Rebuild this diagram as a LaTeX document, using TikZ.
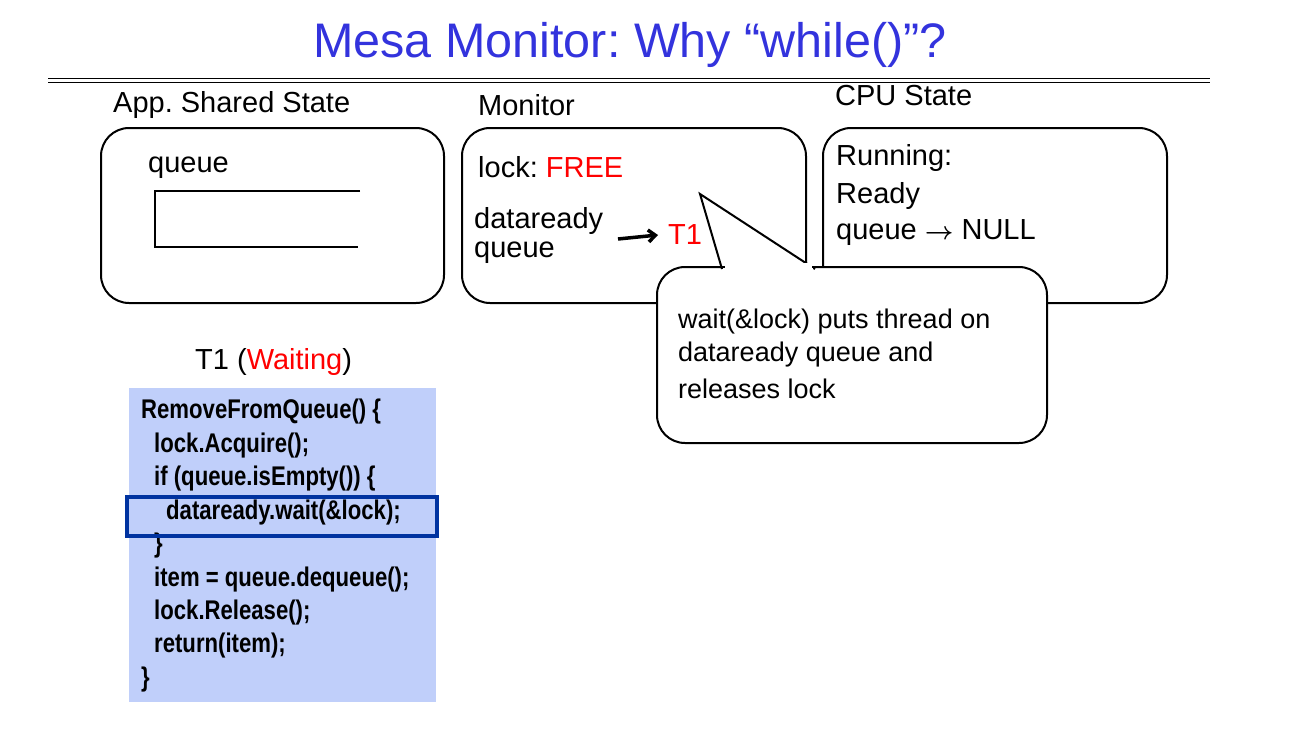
\documentclass[tikz,border=0pt]{standalone}
\usepackage{fontspec}
\usetikzlibrary{arrows.meta}
\setmainfont{Liberation Sans}
\newfontfamily\codefont{Liberation Sans}[FakeStretch=0.82]
\begin{document}
\frenchspacing
\begin{tikzpicture}[x=1pt,y=-1pt,
  lab/.style={anchor=west,inner sep=0,font=\fontsize{29}{33}\selectfont},
  box/.style={draw,line width=2pt,rounded corners=28pt},
  code/.style={anchor=west,inner sep=0,font=\codefont\bfseries\fontsize{27}{30}\selectfont}]
\useasboundingbox (0,0) rectangle (1294,744);
\definecolor{tblue}{RGB}{51,51,221}
\definecolor{cfill}{RGB}{192,207,250}
\definecolor{hblue}{RGB}{0,51,160}
\node[inner sep=0,text=tblue,font=\fontsize{48.5}{52}\selectfont] (title) at (630,45) {Mesa Monitor: Why “while()”?};
\draw[line width=1pt] (48,78) -- (1210,78) (48,82) -- (1210,82);
\node[lab] (l1) at (113,105) {App. Shared State};
\node[lab] (l2) at (478,105) {Monitor};
\node[lab] (l3) at (835,96) {CPU State};
\draw[box] (101,128) rectangle (444,303);
\draw[box] (462,128) rectangle (806,303);
\draw[box] (823,128) rectangle (1167,303);
\node[lab] (q) at (148,168) {queue};
\draw[line width=2pt] (360,191) -- (155,191) -- (155,247) -- (358,247);
\node[lab] (lk) at (478,167) {lock: \textcolor{red}{FREE}};
\node[lab] (dr) at (474,221) {dataready};
\node[lab] (dq) at (474,253) {queue};
\coordinate (a1) at (618,239);
\node[lab,text=red] (t1) at (668,235) {T1};
\draw[line width=3.5pt,-{Straight Barb[length=7pt,width=12pt]}] (a1) -- ([xshift=-10pt]t1.west);
\node[lab] (c1) at (836,158) {Running:};
\node[lab] (c2) at (836,196) {Ready};
\node[lab] (c3) at (836,233) {queue {\boldmath$\rightarrow$} NULL};
\draw[line width=2pt,fill=white,rounded corners=28pt] (722,267) -- (1047,267) -- (1047,443) -- (657,443) -- (657,267) -- (722,267);
\draw[line width=2pt,fill=white,line join=miter] (722,269) -- (700,194) -- (815,269);
\fill[white] (723,263) rectangle (813,272);
\draw[line width=2pt] (720,267) -- (725,267) (812,267) -- (820,267);
\node[lab,font=\fontsize{27}{30}\selectfont] (w1) at (678,322) {wait(\&lock) puts thread on};
\node[lab,font=\fontsize{27}{30}\selectfont] (w2) at (678,355) {dataready queue and};
\node[lab,font=\fontsize{27}{30}\selectfont] (w3) at (678,389) {releases lock};
\node[lab] (t1w) at (195,362) {T1 (\textcolor{red}{Waiting})};
\fill[cfill] (129,388) rectangle (436,702);
\node[code] at (141,412) {RemoveFromQueue() \{};
\node[code] at (154,446) {lock.Acquire();};
\node[code] at (154,479) {if (queue.isEmpty()) \{};
\node[code] at (166,513) {dataready.wait(\&lock);};
\node[code] at (154,546) {\}};
\node[code] at (154,580) {item = queue.dequeue();};
\node[code] at (154,613) {lock.Release();};
\node[code] at (154,646) {return(item);};
\node[code] at (141,680) {\}};
\draw[hblue,line width=4pt] (127,497) rectangle (437,536);
\end{tikzpicture}
\end{document}
